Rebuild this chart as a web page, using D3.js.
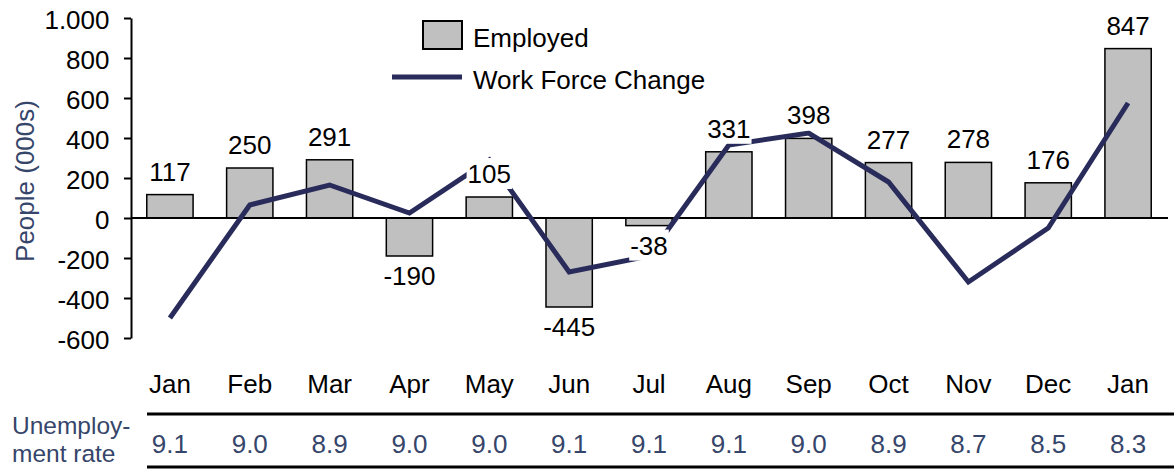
<!DOCTYPE html>
<html lang="en">
<head>
  <meta charset="UTF-8">
  <title>Employed and Work Force Change</title>
  <script src="https://d3js.org/d3.v7.min.js"></script>
  <style>
    body { margin: 0; background: #fff; }
    svg { display: block; font-family: "Liberation Sans", Arial, sans-serif; }
    .bar { fill: #c0c0c0; stroke: #000; stroke-width: 1.5; }
    .line { fill: none; stroke: #292c5a; stroke-width: 5; }
    .txt { font-size: 26px; fill: #000; }
    .blue { fill: #36456a; }
  </style>
</head>
<body>
  <script>
    const months = ["Jan", "Feb", "Mar", "Apr", "May", "Jun", "Jul", "Aug", "Sep", "Oct", "Nov", "Dec", "Jan"];
    const employed = [117, 250, 291, -190, 105, -445, -38, 331, 398, 277, 278, 176, 847];
    const workForce = [-500, 65, 165, 25, 290, -270, -190, 365, 425, 180, -320, -50, 575];
    const unemployment = ["9.1", "9.0", "8.9", "9.0", "9.0", "9.1", "9.1", "9.1", "9.0", "8.9", "8.7", "8.5", "8.3"];
    const tickValues = [1000, 800, 600, 400, 200, 0, -200, -400, -600];
    const tickLabels = ["1.000", "800", "600", "400", "200", "0", "-200", "-400", "-600"];

    const width = 1174, height = 469;

    const svg = d3.select("body")
      .append("svg")
        .attr("width", width)
        .attr("height", height);

    // scales
    const x = d3.scaleBand()
                .domain(d3.range(months.length))
                .range([130, 1168])
                .paddingInner(0.42)
                .paddingOuter(0.21);
    const cx = i => x(i) + x.bandwidth() / 2;

    const y = d3.scaleLinear()
                .domain([-600, 1000])
                .range([338, 18]);

    // y axis
    const yAxis = svg.append("g")
      .attr("transform", "translate(131,0)")
      .call(d3.axisLeft(y)
        .tickValues(tickValues)
        .tickFormat((d, i) => tickLabels[i])
        .tickSize(7)
        .tickSizeOuter(0)
        .tickPadding(14.5));
    yAxis.attr("font-family", null).attr("font-size", null);
    yAxis.select(".domain").attr("stroke-width", 2);
    yAxis.selectAll(".tick line").attr("stroke-width", 2);
    yAxis.selectAll(".tick text").attr("class", "txt").attr("dy", "0.42em");

    svg.append("text")
       .attr("class", "txt blue")
       .attr("transform", "translate(34,181) rotate(-90)")
       .attr("text-anchor", "middle")
       .text("People (000s)");

    // bars
    svg.selectAll(".bar")
       .data(employed)
       .join("rect")
         .attr("class", "bar")
         .attr("x", (d, i) => x(i))
         .attr("width", x.bandwidth())
         .attr("y", d => y(Math.max(0, d)))
         .attr("height", d => Math.abs(y(d) - y(0)));

    // zero line
    svg.append("line")
       .attr("x1", 131).attr("x2", 1168)
       .attr("y1", y(0)).attr("y2", y(0))
       .attr("stroke", "#000").attr("stroke-width", 2);

    // work force line
    const line = d3.line()
                   .x((d, i) => cx(i))
                   .y(d => y(d));

    svg.append("path")
       .datum(workForce)
       .attr("class", "line")
       .attr("d", line);

    // value labels with white knockout
    employed.forEach((v, i) => {
      const g = svg.append("g");
      const t = g.append("text")
        .attr("class", "txt")
        .attr("x", cx(i))
        .attr("y", v >= 0 ? y(v) - 14 : y(v) + 29)
        .attr("text-anchor", "middle")
        .text(v);
      const b = t.node().getBBox();
      g.insert("rect", "text")
        .attr("x", b.x - 1).attr("y", b.y - 1)
        .attr("width", b.width + 2).attr("height", b.height + 1)
        .attr("fill", "#fff");
    });

    // month labels
    svg.selectAll(".month")
       .data(months)
       .join("text")
         .attr("class", "txt month")
         .attr("x", (d, i) => cx(i))
         .attr("y", 393)
         .attr("text-anchor", "middle")
         .text(d => d);

    // legend
    svg.append("rect")
       .attr("x", 423).attr("y", 21)
       .attr("width", 39).attr("height", 28)
       .attr("fill", "#c0c0c0").attr("stroke", "#000").attr("stroke-width", 2);
    svg.append("text").attr("class", "txt").attr("x", 473).attr("y", 47).text("Employed");
    svg.append("line")
       .attr("x1", 392).attr("x2", 462)
       .attr("y1", 77).attr("y2", 77)
       .attr("stroke", "#292c5a").attr("stroke-width", 5);
    svg.append("text").attr("class", "txt").attr("x", 473).attr("y", 89).text("Work Force Change");

    // unemployment table
    [414, 467].forEach(ly => {
      svg.append("line")
         .attr("x1", 147).attr("x2", width)
         .attr("y1", ly).attr("y2", ly)
         .attr("stroke", "#000").attr("stroke-width", 3);
    });
    svg.append("text").attr("class", "txt blue").attr("x", 12).attr("y", 434)
       .style("font-size", "24.5px").text("Unemploy-");
    svg.append("text").attr("class", "txt blue").attr("x", 12).attr("y", 462)
       .style("font-size", "24.5px").text("ment rate");

    svg.selectAll(".rate")
       .data(unemployment)
       .join("text")
         .attr("class", "txt blue rate")
         .attr("x", (d, i) => cx(i))
         .attr("y", 453)
         .attr("text-anchor", "middle")
         .text(d => d);
  </script>
</body>
</html>
